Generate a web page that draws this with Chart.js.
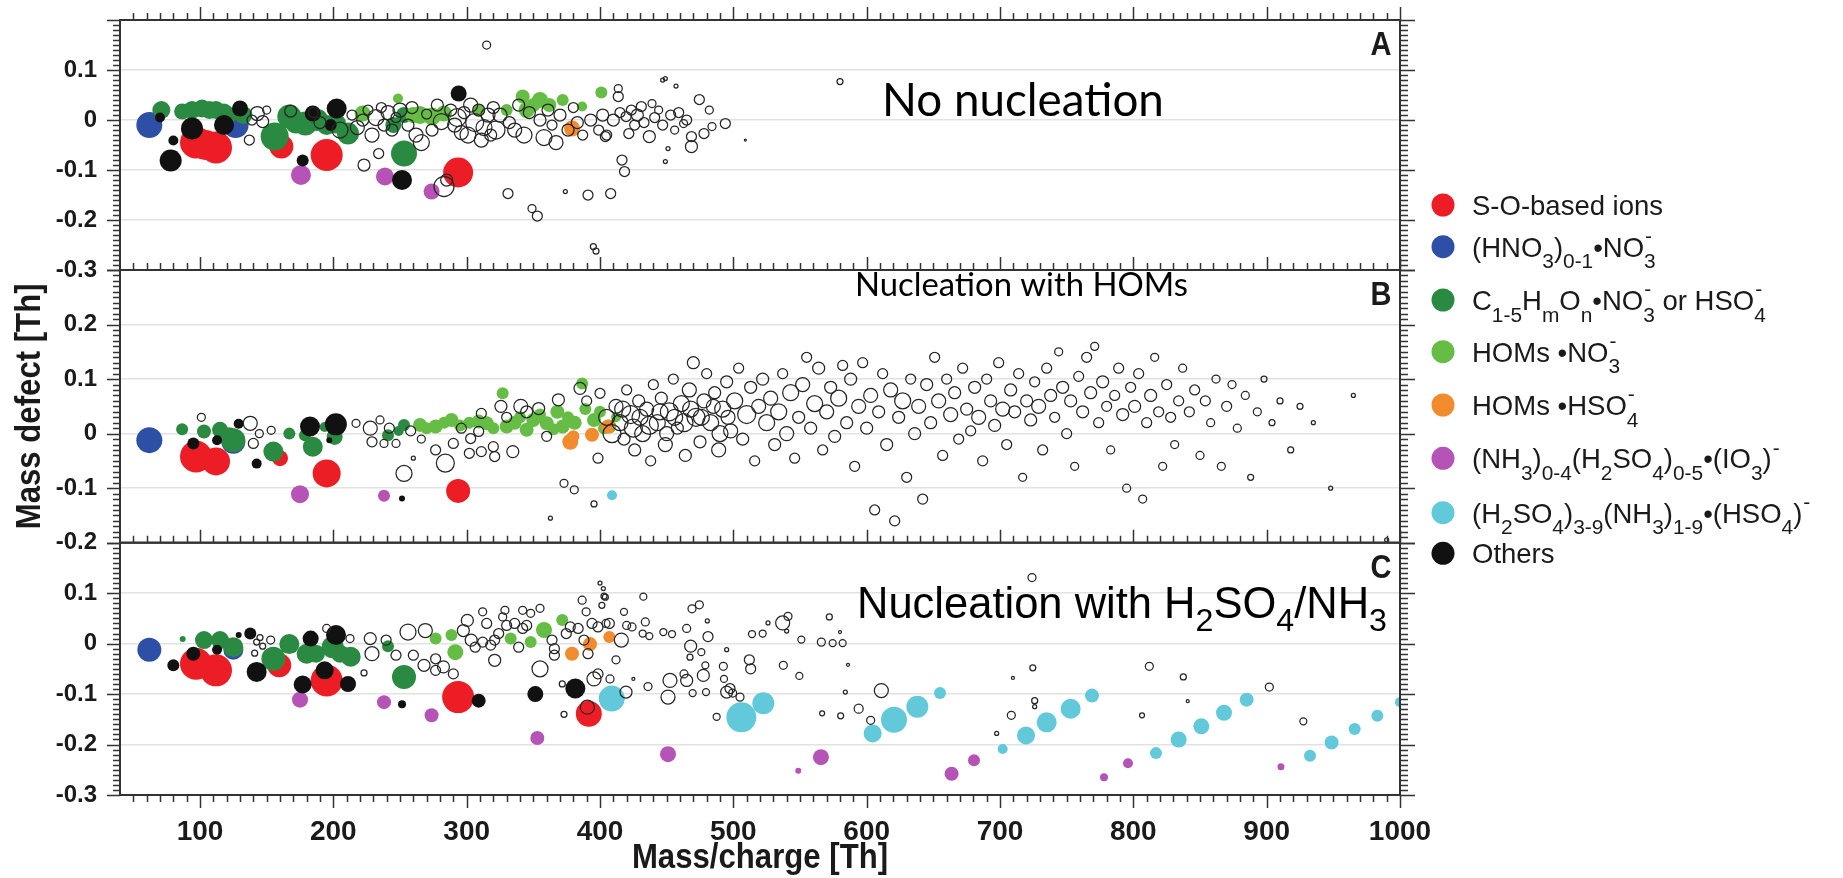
<!DOCTYPE html>
<html><head><meta charset="utf-8">
<script src="https://cdn.jsdelivr.net/npm/chart.js@4.4.1/dist/chart.umd.min.js"></script>
<style>html,body{margin:0;padding:0;background:#fff;}#wrap{position:relative;width:1843px;height:878px;}canvas{display:block;}</style>
</head><body><div id="wrap"><canvas id="c" width="1843" height="878"></canvas></div>
<script>
// ================= DATA =================
const xTickValues = [100,200,300,400,500,600,700,800,900,1000];
const yTicksA = [-0.3,-0.2,-0.1,0,0.1,0.2];
const yLabelsA = ['-0.3','-0.2','-0.1','0','0.1',''];
const yTicksB = [-0.2,-0.1,0,0.1,0.2,0.3];
const yLabelsB = ['-0.2','-0.1','0','0.1','0.2',''];
const yTicksC = [-0.3,-0.2,-0.1,0,0.1,0.2];
const yLabelsC = ['-0.3','-0.2','-0.1','0','0.1',''];
const xTitle = 'Mass/charge [Th]';
const yTitle = 'Mass defect [Th]';
const panelLetters = ['A','B','C'];
const panelNotes = ['No nucleation','Nucleation with HOMs','Nucleation with H_{2}SO_{4}/NH_{3}'];
const categories = [
  'S-O-based ions',
  '(HNO_{3})_{0-1}•NO~{3}{-}',
  'C_{1-5}H_{m}O_{n}•NO~{3}{-} or HSO~{4}{-}',
  'HOMs •NO~{3}{-}',
  'HOMs •HSO~{4}{-}',
  '(NH_{3})_{0-4}(H_{2}SO_{4})_{0-5}•(IO_{3})^{-}',
  '(H_{2}SO_{4})_{3-9}(NH_{3})_{1-9}•(HSO_{4})^{-}',
  'Others'
];
const categoryColors = ['#ec1d24','#2d4fa5','#2b8a42','#66bd45','#f28a2e','#b653b6','#62c9da','#111111'];

// each point: [mass/charge, mass defect, marker radius]
const A_SO = [[97,-0.045,16],[104,-0.05,15],[112,-0.055,16],[161,-0.053,12],[195,-0.07,16],[293.6,-0.105,15]];
const A_HNO3 = [[62,-0.01,13],[126.7,-0.01,13]];
const A_CHO = [[71,0.02,9],[86.6,0.017,8],[94,0.02,9],[101.5,0.023,9],[107,0.02,9],[112,0.02,9],[118,0.015,9],[122,0.01,8],[132.6,0.01,9],[156,-0.033,14],[167,0.007,12],[172,-0.005,11],[179,-0.007,12],[188,0.0,11],[195,-0.01,10],[202,-0.007,10],[211,-0.027,11],[253,-0.067,13],[253,0.01,8],[245,-0.01,8]];
const A_HOMNO3 = [[222,0.013,8],[248.5,0.043,5],[260,0.01,8],[265,0.01,9],[274,0.007,9],[283,0.013,8],[309,0.02,6],[330,0.02,6],[342,0.047,7],[345,0.02,8],[350,0.03,7],[355,0.04,8],[362,0.03,7],[372,0.04,6],[386.6,0.027,5],[401,0.055,6]];
const A_HOMHSO4 = [[379,-0.017,8]];
const A_IO3 = [[175.7,-0.11,10],[238.7,-0.113,9],[273.7,-0.143,8]];
const A_SANH3 = [];
const A_OTHER = [[70,0.005,5],[78,-0.081,11],[80,-0.041,5],[94,-0.017,11],[118,-0.01,10],[130,0.023,8],[177,-0.081,6],[184.6,0.013,8],[198,-0.01,6],[202.5,0.023,10],[251.5,-0.12,10],[294,0.053,8]];
const A_UNID = [[137,-0.04,5],[143,0.013,7],[147,-0.003,6],[150,0.02,4],[139,0.0,5],[168,0.018,6],[185,0.015,5],[190,-0.005,6],[205,-0.02,8],[214,0.01,5],[218,-0.015,7],[222,0.0,6],[223,-0.09,6],[226,0.02,5],[229,-0.03,7],[232,0.005,8],[234,-0.067,5],[236,0.025,5],[238,-0.01,6],[241,0.015,7],[244,-0.02,6],[247,0.005,5],[250,0.02,7],[256,-0.01,6],[259,0.025,6],[262,-0.03,7],[266,-0.045,8],[270,0.012,5],[274,-0.02,6],[278,0.03,6],[281,-0.003,8],[283,-0.133,10],[285,-0.12,6],[288,0.02,6],[291,-0.01,7],[293,0.005,9],[296,-0.025,7],[298,0.015,6],[301,-0.03,8],[303,0.03,7],[306,-0.005,9],[309,0.02,6],[311,-0.04,7],[313,-0.015,8],[316,0.01,7],[318,-0.03,6],[320,0.025,6],[322,-0.02,9],[325,0.01,7],[315,0.15,4],[331,-0.147,5],[332,-0.005,6],[336,-0.02,7],[339,0.03,6],[343,-0.03,8],[347,0.015,6],[349,-0.177,4],[353,-0.192,5],[355,0.0,6],[358,-0.035,8],[361,0.02,6],[364,-0.01,5],[367,-0.045,7],[370,0.01,6],[374,-0.143,2],[376,-0.02,6],[380,0.025,5],[383,-0.005,6],[387,-0.03,5],[391,-0.15,5],[393,0.0,6],[395,-0.253,3],[397,-0.262,3],[399,-0.02,5],[402,0.01,6],[404,-0.033,5],[405,-0.03,5],[408,-0.147,5],[410,0.0,6],[413.7,0.063,4],[413.7,0.047,5],[415,0.015,5],[416.5,-0.08,5],[418.4,-0.103,5],[419.6,0.007,5],[421.6,-0.027,5],[423.5,0.02,5],[426,-0.01,5],[428,0.01,6],[431,0.027,5],[433,-0.005,5],[437,-0.033,6],[439,0.033,4],[441,0.005,5],[444,0.02,4],[447,0.08,2],[449,0.083,2],[447,-0.01,5],[449,-0.083,2],[451,-0.057,2],[453,0.01,5],[456,-0.02,4],[457,0.068,2],[459,0.015,5],[462.7,-0.007,4],[465,0.0,5],[468.6,-0.033,5],[468.6,-0.053,6],[474.5,0.041,5],[478,-0.027,5],[482,0.02,4],[484,-0.013,4],[494,-0.007,5],[509,-0.04,1],[580,0.077,3]];

const B_SO = [[97,-0.042,16],[112,-0.051,14],[160,-0.045,8],[195,-0.073,14],[293.6,-0.105,12]];
const B_HNO3 = [[62,-0.012,13],[125,-0.015,12]];
const B_CHO = [[86.6,0.008,6],[103,0.004,7],[115,0.007,8],[122,-0.005,9],[125,-0.012,12],[155,-0.033,10],[167,0.0,6],[178.7,-0.003,6],[184.6,-0.024,10],[193.5,0.012,5],[201,-0.006,8],[241,-0.003,6],[249,0.005,5],[253,0.016,6]];
const B_HOMNO3 = [[265,0.016,7],[270,0.01,6],[276.7,0.013,7],[283,0.02,6],[288.6,0.025,7],[295,0.015,6],[302,0.02,6],[309,0.022,7],[315,0.019,7],[320,0.01,6],[327,0.074,6],[330,0.013,7],[336,0.02,7],[340,0.03,6],[345,0.007,7],[350,0.025,7],[355,0.035,6],[360,0.019,7],[365,0.008,6],[368,0.04,7],[372,0.013,7],[376,0.03,6],[381,0.02,7],[386.6,0.092,6],[389,0.045,6],[395.5,0.025,7],[400,0.04,6],[403,0.01,6],[407,0.013,7],[412,0.03,5]];
const B_HOMHSO4 = [[377.7,-0.015,8],[380,-0.005,6],[394,-0.002,7],[406,0.013,7]];
const B_IO3 = [[175,-0.111,9],[238,-0.114,6]];
const B_SANH3 = [[409,-0.113,5]];
const B_OTHER = [[95,-0.018,6],[112.8,-0.012,5],[129,0.018,5],[142.5,-0.055,5],[182.5,0.013,10],[201.9,0.017,11],[197,-0.012,3],[251.5,-0.119,3]];
const B_UNID = [[101,0.03,4],[137.7,0.019,7],[144.5,0.0,4],[140,-0.018,5],[153.4,0.006,4],[217,0.019,4],[227.7,0.01,7],[235,0.025,4],[229,-0.015,5],[238,-0.018,4],[242,0.01,5],[247,-0.018,4],[253,-0.073,8],[258,0.005,5],[260,-0.045,2],[266,-0.01,4],[276.7,-0.03,5],[284,-0.054,9],[290,-0.018,5],[296,0.01,5],[302,-0.036,5],[303,-0.009,5],[309,0.004,5],[311,-0.033,5],[311,0.037,5],[320,-0.024,5],[321,-0.042,5],[325.7,0.05,6],[330,0.03,5],[334.6,-0.033,6],[340.6,0.05,7],[345,0.04,6],[354,0.046,6],[360,-0.005,5],[362.8,-0.155,2],[368.8,0.062,6],[373,-0.091,4],[380.7,-0.103,4],[385,0.083,6],[390,0.06,5],[395.5,-0.129,3],[398.5,-0.045,5],[400,0.074,5],
[405,0.03,8],[409,0.0,9],[412,0.05,7],[415,0.02,8],[417,0.045,8],[418,-0.01,6],[420,0.08,5],[423,0.035,9],[425,0.01,9],[426,-0.03,6],[429,0.06,6],[430,0.03,8],[432,0.0,8],[435,0.045,7],[437,0.015,9],[438,-0.05,5],[440,0.09,5],[443,0.02,8],[445,0.04,8],[446,0.065,6],[449,-0.02,7],[450,0.0,7],[452,0.04,9],[455,0.1,5],[456,0.03,8],[458,0.01,6],[461,0.055,8],[463,0.02,9],[464,-0.04,6],[467,0.08,7],[468,0.045,8],[470,0.13,6],[472,0.03,9],[475,-0.015,6],[476,0.03,8],[478,0.06,7],[480,0.11,5],[483,0.02,8],[485,0.05,7],[486,0.075,6],[489,-0.03,7],[490,0.0,8],[492,0.045,8],[495,0.095,6],[496,0.03,7],[498,0.005,7],[501,0.06,8],[504,0.12,5],[507,-0.01,6],[510,0.035,9],[513,0.085,6],[516,-0.05,5],[519,0.05,7],[522,0.1,6],[525,0.02,8],[528,0.065,7],[531,-0.02,6],[534,0.04,8],[537,0.11,5],[540,0.0,7],[543,0.075,8],[546,-0.045,5],[549,0.03,6],[552,0.09,7],[555,0.14,5],[558,0.01,6],[561,0.055,8],[564,0.12,6],[567,-0.03,5],[570,0.04,7],[573,0.085,6],[576,-0.005,6],[579,0.065,8],[582,0.125,5],[585,0.02,6],[588,0.1,6],[591,-0.06,5],[594,0.05,7],[597,0.13,5],[600,0.01,6],[603,0.07,7],[606,-0.14,5],[609,0.04,6],[612,0.11,5],[615,-0.02,6],[618,0.08,7],[621,-0.16,5],[624,0.03,6],[627,0.06,8],[630,-0.08,5],[633,0.1,5],[636,0.0,6],[639,0.05,7],[642,-0.12,5],[645,0.09,6],[648,0.02,6],[651,0.14,5],[654,0.06,7],[657,-0.04,5],[660,0.1,5],[663,0.035,7],[666,0.075,6],[669,-0.01,5],[672,0.12,5],[675,0.045,6],[678,0.005,5],[681,0.085,6],[684,0.03,7],[687,-0.05,5],[690,0.1,5],[693,0.06,6],[696,0.015,6],[699,0.13,5],[702,0.045,7],[705,-0.02,5],[708,0.08,6],[711,0.04,6],[714,0.11,5],[717,-0.08,4],[720,0.06,6],[723,0.025,6],[726,0.095,5],[729,0.05,7],[732,-0.03,5],[735,0.12,5],[738,0.07,6],[741,0.03,5],[744,0.15,4],[747,0.085,6],[750,0.0,5],[753,0.06,6],[756,-0.06,4],[759,0.105,5],[762,0.04,6],[765,0.14,5],[768,0.075,6],[771,0.16,4],[774,0.02,5],[777,0.095,6],[780,0.05,5],[783,-0.03,4],[786,0.07,5],[789,0.12,5],[792,0.035,6],[795,-0.1,4],[798,0.085,5],[801,0.05,6],[804,0.11,5],[807,-0.12,4],[810,0.02,5],[813,0.07,6],[816,0.14,4],[819,0.04,5],[822,-0.06,4],[825,0.09,5],[828,0.03,5],[831,-0.02,4],[834,0.06,5],[837,0.12,4],[842,0.04,5],[846,0.08,5],[850,-0.04,4],[854,0.06,5],[858,0.02,4],[862,0.1,4],[866,-0.06,4],[870,0.05,5],[874,0.09,4],[878,0.01,4],[884,0.07,4],[888,-0.08,3],[893,0.04,4],[898,0.1,3],[904,0.02,3],[910,0.06,3],[918,-0.03,3],[925,0.05,3],[935,0.02,2],[948,-0.1,2],[965,0.07,2],[990,-0.195,2]];

const C_SO = [[97,-0.04,16],[112,-0.053,16],[159.4,-0.043,12],[195,-0.073,16],[293.6,-0.106,16],[391.6,-0.139,13]];
const C_HNO3 = [[62,-0.012,12],[125,-0.012,10]];
const C_CHO = [[87,0.009,3],[103,0.007,9],[115,0.007,9],[125,-0.007,10],[155,-0.03,12],[167,-0.001,10],[180,-0.02,10],[187,-0.02,9],[199.5,-0.007,11],[205,-0.02,9],[213,-0.026,10],[241,-0.005,6],[253,-0.066,12]];
const C_HOMNO3 = [[276.7,0.01,6],[288.6,0.017,6],[291.5,-0.017,8],[333,0.01,6],[348,0.003,6],[358,0.027,8],[371.7,0.047,6]];
const C_HOMHSO4 = [[379,-0.02,7],[392.5,-0.001,7],[407,0.013,6]];
const C_IO3 = [[175,-0.111,8],[238,-0.116,7],[273.7,-0.142,7],[353,-0.187,7],[451,-0.219,8],[548.7,-0.252,3],[565.7,-0.225,8],[663.7,-0.258,7],[680.5,-0.231,6],[778,-0.265,4],[796,-0.237,5],[910.7,-0.244,3.5]];
const C_SANH3 = [[408.8,-0.109,13],[506,-0.146,15],[522.5,-0.118,11],[604.5,-0.178,9],[620.5,-0.151,13],[638,-0.125,11],[655,-0.098,6],[702,-0.209,5],[719.5,-0.182,9],[735,-0.156,10],[753,-0.129,10],[769,-0.103,7],[817,-0.217,6],[834,-0.19,8],[851,-0.164,8],[868,-0.137,8],[885,-0.111,7],[932.5,-0.222,6],[948.7,-0.196,7],[966,-0.169,6],[983,-0.143,6],[1000,-0.116,5]];
const C_OTHER = [[80,-0.043,6],[95,-0.02,7],[112.8,-0.012,5],[129,0.017,3],[137.7,0.02,6],[142.5,-0.056,10],[177,-0.081,9],[183,0.01,8],[193.5,-0.053,9],[202,0.017,10],[211,-0.08,8],[251.5,-0.12,4],[309,-0.113,7],[351.5,-0.1,8],[381.5,-0.089,10]];
const C_UNID = [[141,-0.019,3],[142.5,0.003,3],[145,0.012,3],[147,-0.005,3],[153,0.007,4],[195,0.03,4],[212.5,0.01,4],[227.7,0.01,6],[229,-0.02,7],[223,-0.058,3],[239.6,0.007,5],[247,-0.023,5],[256,0.023,8],[269,0.026,7],[260,-0.023,5],[268,-0.043,6],[276.7,-0.03,5],[282.6,-0.046,6],[276.7,-0.053,5],[290,-0.06,5],[300.5,0.046,6],[297.5,0.026,6],[303.4,0.007,6],[306.4,-0.007,5],[312,0.063,4],[312,0.003,5],[315,0.04,5],[318,-0.003,5],[321,0.007,5],[321,-0.033,6],[324,0.02,5],[327,0.053,4],[328.7,0.066,4],[330,0.036,5],[336,0.04,5],[339,-0.007,5],[342,0.066,4],[342,0.03,5],[345,0.036,5],[348,0.06,4],[355,0.07,4],[355,-0.05,8],[364,0.007,5],[365.8,-0.01,5],[365.8,-0.023,5],[371.7,-0.08,3],[373,-0.14,3],[374.7,0.02,5],[377.7,0.033,5],[383.6,0.03,5],[386.6,0.086,4],[388,0.007,5],[389.6,0.063,4],[391,-0.02,5],[390.5,-0.126,7],[394,0.04,5],[395.5,-0.07,7],[398.5,-0.06,5],[398.5,0.033,5],[400,0.12,2],[401.4,0.076,3],
[402.5,0.109,2],[403,0.094,3],[404,0.092,3],[404.5,0.04,4],[407,0.04,5],[407.5,-0.07,4],[412,-0.032,4],[416,0.007,7],[418,0.063,3.5],[419.5,-0.096,6],[420,0.036,4],[424,0.033,4],[425,-0.07,1.5],[432,0.02,3.5],[432.5,0.093,3.5],[434,0.043,4],[436,-0.085,4],[437,0.015,3.5],[447.5,0.023,3.5],[451,-0.106,7],[452.5,-0.073,7],[454,0.019,3.5],[463,-0.06,4],[465,0.03,4],[465,-0.073,6],[467.5,-0.027,3],[468,-0.005,6],[469,0.069,4],[469.5,-0.098,3.5],[474.5,0.077,4],[476,-0.017,3.5],[477.5,-0.063,6],[479,-0.043,3.5],[479.5,-0.096,3.5],[480.5,0.045,2],[481,0.014,5],[487.5,-0.145,3.5],[492.5,-0.045,4],[493,-0.07,3.5],[495,-0.012,2],[495,-0.096,6],[497.5,-0.089,5],[499.5,-0.098,4],[505,-0.106,4],[512,-0.032,5],[513,-0.05,5],[514,0.019,3.5],[522,0.02,3.5],[526,0.041,2],[537,0.041,7],[537.5,-0.043,4],[540,0.025,2],[541,0.054,4],[549.5,-0.064,3.5],[551,0.008,3.5],[566,0.003,4],[566.6,-0.138,2.5],[572,0.053,3],[574.5,0.001,3.5],[580,0.023,1.5],[580.5,-0.143,3],[582,0.001,3.5],[584,-0.096,2],[586,-0.042,1.5],[594,-0.129,4.5],[603,-0.152,4],[611,-0.093,7],[697.5,-0.178,2],[708.5,-0.142,4],[709.7,-0.068,1.5],[724,0.131,4],[724.6,-0.048,3],[726,-0.113,3],[726,-0.125,2],[806.5,-0.142,2.5],[812,-0.045,4],[837.5,-0.066,3],[840.8,-0.114,1.5],[902,-0.086,4],[927.5,-0.154,3.5]];

const panelFilled = {
  A: [A_SO, A_HNO3, A_CHO, A_HOMNO3, A_HOMHSO4, A_IO3, A_SANH3, A_OTHER],
  B: [B_SO, B_HNO3, B_CHO, B_HOMNO3, B_HOMHSO4, B_IO3, B_SANH3, B_OTHER],
  C: [C_SO, C_HNO3, C_CHO, C_HOMNO3, C_HOMHSO4, C_IO3, C_SANH3, C_OTHER]
};
const panelOpen = { A: A_UNID, B: B_UNID, C: C_UNID };

// ================= LAYOUT / STYLE =================
const W = 1843, H = 878;
const PLOT = { left: 120, right: 1400, top: 20, bottom: 795 };
const FRAME = '#333333';
const TXT = '#1a1a1a';
const SANS = "'Liberation Sans', Arial, Helvetica, sans-serif";

function toPts(arr){ return arr.map(p => ({x:p[0], y:p[1], r:p[2]})); }

const datasets = [];
['A','B','C'].forEach(p => {
  panelFilled[p].forEach((arr, ci) => {
    datasets.push({ label: p+ci, data: toPts(arr), yAxisID: 'y'+p,
      backgroundColor: categoryColors[ci], borderWidth: 0, order: 8 - ci + 1 });
  });
  datasets.push({ label: p+'open', data: toPts(panelOpen[p]), yAxisID: 'y'+p,
    backgroundColor: 'rgba(0,0,0,0)', borderColor: '#262626', borderWidth: 1.25, order: 0 });
});

function yAxis(ticks, labels, min, max, weight, sw){
  return {
    type: 'linear', position: 'left', stack: 'panels', stackWeight: sw, weight: weight,
    min: min, max: max,
    afterBuildTicks: s => { s.ticks = ticks.map(v => ({value: v})); },
    afterFit: s => { s.width = PLOT.left; s.paddingTop = 0; s.paddingBottom = 0; },
    ticks: { padding: 23, autoSkip: false, color: TXT, font: {family: SANS, size: 24, weight: 'bold'},
      callback: v => { const i = ticks.findIndex(t => Math.abs(t - v) < 1e-9); return i < 0 ? '' : labels[i]; } },
    grid: { drawTicks: false, lineWidth: 1.6,
      color: c => (c.tick && (Math.abs(c.tick.value - min) < 1e-9 || Math.abs(c.tick.value - max) < 1e-9)) ? 'rgba(0,0,0,0)' : '#e2e2e2' },
    border: { display: false },
    title: { display: false }
  };
}

function parseRich(s){
  const out = []; const re = /_\{([^}]*)\}|\^\{([^}]*)\}|~\{([^}]*)\}\{([^}]*)\}/g; let last = 0, m;
  while ((m = re.exec(s))) {
    if (m.index > last) out.push({k:'n', t:s.slice(last, m.index)});
    if (m[1] !== undefined) out.push({k:'b', t:m[1]});
    else if (m[2] !== undefined) out.push({k:'p', t:m[2]});
    else out.push({k:'bp', t:m[3], s:m[4]});
    last = re.lastIndex;
  }
  if (last < s.length) out.push({k:'n', t:s.slice(last)});
  return out;
}
function drawRich(ctx, s, x, y, size, fam, weight, dry, subScale, subDrop){
  const segs = parseRich(s);
  const sub = size * (subScale || 0.74), dy = size * (subDrop || 0.4), uy = -size * 0.5;
  for (const g of segs) {
    if (g.k === 'n') { ctx.font = `${weight} ${size}px ${fam}`; if (!dry) ctx.fillText(g.t, x, y); x += ctx.measureText(g.t).width; }
    else if (g.k === 'b') { ctx.font = `${weight} ${sub}px ${fam}`; if (!dry) ctx.fillText(g.t, x, y + dy); x += ctx.measureText(g.t).width; }
    else if (g.k === 'p') { ctx.font = `${weight} ${sub}px ${fam}`; if (!dry) ctx.fillText(g.t, x + 1, y + uy); x += ctx.measureText(g.t).width + 1; }
    else { ctx.font = `${weight} ${sub}px ${fam}`; const w1 = ctx.measureText(g.t).width, w2 = ctx.measureText(g.s).width;
      if (!dry) { ctx.fillText(g.t, x, y + dy); ctx.fillText(g.s, x + 1, y + uy); } x += Math.max(w1, w2); }
  }
  return x;
}
function drawFit(ctx, s, x, y, targetW, fam, weight, subScale, subDrop){
  const base = 40; const w = drawRich(ctx, s, 0, 0, base, fam, weight, true, subScale, subDrop);
  const size = base * targetW / w;
  drawRich(ctx, s, x, y, size, fam, weight, false, subScale, subDrop);
}
function drawCondensed(ctx, text, cx, cy, size, sx, rot){
  ctx.save(); ctx.translate(cx, cy); if (rot) ctx.rotate(rot); ctx.scale(sx, 1);
  ctx.font = `bold ${size}px ${SANS}`; ctx.textAlign = 'center'; ctx.textBaseline = 'alphabetic';
  ctx.fillText(text, 0, 0); ctx.restore();
}

const decorPlugin = {
  id: 'decor',
  afterDatasetsDraw(chart){
    const ctx = chart.ctx, xs = chart.scales.x, ca = chart.chartArea;
    const ys = [chart.scales.yA, chart.scales.yB, chart.scales.yC];
    ctx.save();
    ctx.strokeStyle = FRAME; ctx.fillStyle = TXT;
    ys.forEach(s => {
      const n = Math.round((s.max - s.min) / 0.01);
      ctx.lineWidth = 1.3; ctx.beginPath();
      for (let k = 0; k <= n; k++) {
        const y = Math.round(s.getPixelForValue(s.min + k * 0.01)) + 0.5;
        const major = k % 10 === 0;
        ctx.moveTo(ca.left, y); ctx.lineTo(ca.left - (major ? 13 : 7), y);
        ctx.moveTo(ca.right, y); ctx.lineTo(ca.right + (major ? 15 : 8), y);
      }
      ctx.stroke();
    });
    const borders = [[ys[0].top, -1], [ys[0].bottom, -1], [ys[1].bottom, -1], [ys[2].bottom, 1]];
    ctx.lineWidth = 1.5; ctx.beginPath();
    for (let t = 50; t <= 1000; t += 10) {
      const x = Math.round(xs.getPixelForValue(t)) + 0.5;
      const len = (t % 100 === 0) ? 13 : 7;
      borders.forEach(([y, d]) => { ctx.moveTo(x, y); ctx.lineTo(x, y + d * len); });
    }
    ctx.stroke();
    ctx.lineWidth = 2;
    ys.forEach(s => ctx.strokeRect(ca.left, s.top, ca.right - ca.left, s.bottom - s.top));
    ys.forEach((s, i) => drawCondensed(ctx, panelLetters[i], ca.right - 19, s.top + 35, 33, 0.88, 0));
    drawCondensed(ctx, xTitle, (ca.left + ca.right) / 2, 868, 35, 0.89, 0);
    drawCondensed(ctx, yTitle, 40, (ys[1].top + ys[1].bottom) / 2, 35, 0.89, -Math.PI / 2);
    ctx.textAlign = 'left'; ctx.textBaseline = 'alphabetic'; ctx.fillStyle = '#000';
    drawFit(ctx, panelNotes[0], 882, ys[0].top + 96, 282, "Lato, 'Open Sans', sans-serif", 'normal');
    drawFit(ctx, panelNotes[1], 855, ys[1].top + 26, 333, "Lato, 'Open Sans', sans-serif", 'normal');
    drawFit(ctx, panelNotes[2], 857, ys[2].top + 75, 530, SANS, 'normal', 0.74, 0.3);
    const rowsBase = [215, 256.7, 310, 361.7, 415, 468.3, 522.7, 563.3];
    categories.forEach((lab, i) => {
      ctx.fillStyle = categoryColors[i];
      ctx.beginPath(); ctx.arc(1443, rowsBase[i] - 10, 11.5, 0, Math.PI * 2); ctx.fill();
      ctx.fillStyle = TXT;
      drawRich(ctx, lab, 1472, rowsBase[i], 27.5, SANS, 'normal', false, 0.76, 0.42);
    });
    ctx.restore();
  }
};

Chart.defaults.font.family = SANS;
new Chart(document.getElementById('c'), {
  type: 'bubble',
  data: { datasets },
  options: {
    responsive: false, animation: false, events: [],
    layout: { padding: { left: 0, top: PLOT.top, right: W - PLOT.right, bottom: 0 } },
    plugins: { legend: { display: false }, tooltip: { enabled: false } },
    scales: {
      x: { type: 'linear', position: 'bottom', min: 40, max: 1000,
        afterBuildTicks: s => { s.ticks = xTickValues.map(v => ({value: v})); },
        afterFit: s => { s.height = H - PLOT.bottom; s.paddingLeft = 0; s.paddingRight = 0; },
        ticks: { padding: 20, color: TXT, font: {family: SANS, size: 28, weight: 'bold'}, maxRotation: 0, autoSkip: false, callback: v => String(v) },
        grid: { display: false, drawTicks: false }, border: { display: false },
        title: { display: false } },
      yA: yAxis(yTicksA, yLabelsA, -0.3, 0.2, 3, 250),
      yB: yAxis(yTicksB, yLabelsB, -0.2, 0.3, 2, 272.7),
      yC: yAxis(yTicksC, yLabelsC, -0.3, 0.2, 1, 252.3)
    }
  },
  plugins: [decorPlugin]
});
</script></body></html>
